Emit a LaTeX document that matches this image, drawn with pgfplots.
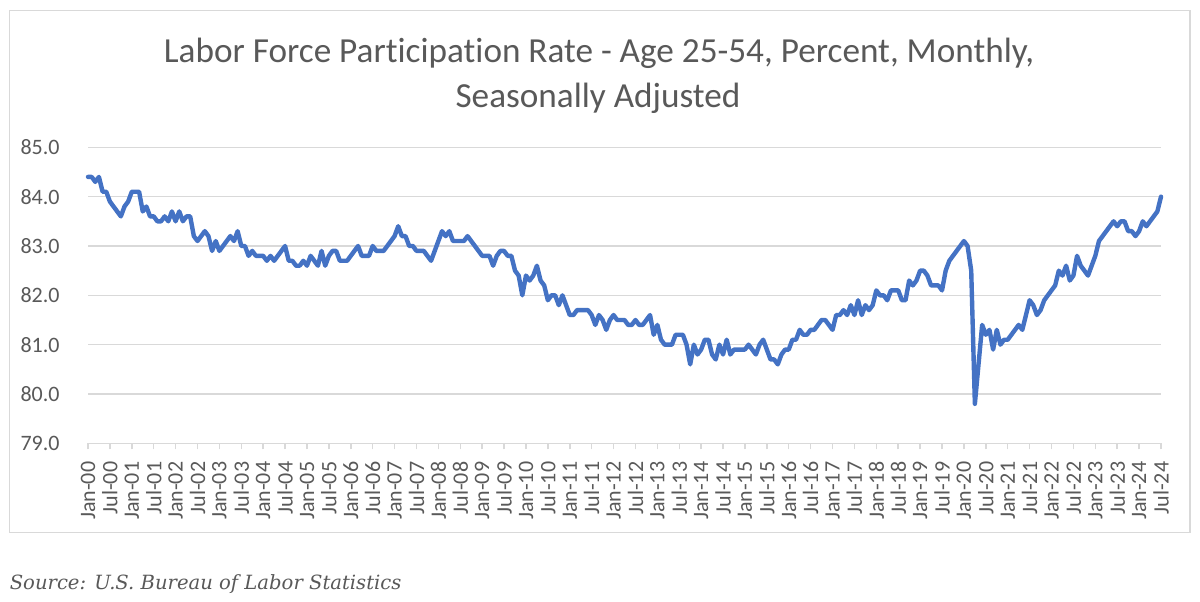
\documentclass[border=0pt]{standalone}
\usepackage{fontspec}
\setmainfont{Carlito}[Ligatures={NoCommon}]
\newfontfamily\srcfont{DejaVu Serif}
\usepackage{pgfplots}
\usepackage{pgfplotstable}
\pgfplotsset{compat=1.18}
\definecolor{txtgray}{HTML}{595959}
\definecolor{gridgray}{HTML}{D9D9D9}
\definecolor{linblue}{HTML}{4472C4}
\definecolor{framegray}{HTML}{D9D9D9}
\pgfplotstableread{
v
84.4
84.4
84.3
84.4
84.1
84.1
83.9
83.8
83.7
83.6
83.8
83.9
84.1
84.1
84.1
83.7
83.8
83.6
83.6
83.5
83.5
83.6
83.5
83.7
83.5
83.7
83.5
83.6
83.6
83.2
83.1
83.2
83.3
83.2
82.9
83.1
82.9
83.0
83.1
83.2
83.1
83.3
83.0
83.0
82.8
82.9
82.8
82.8
82.8
82.7
82.8
82.7
82.8
82.9
83.0
82.7
82.7
82.6
82.6
82.7
82.6
82.8
82.7
82.6
82.9
82.6
82.8
82.9
82.9
82.7
82.7
82.7
82.8
82.9
83.0
82.8
82.8
82.8
83.0
82.9
82.9
82.9
83.0
83.1
83.2
83.4
83.2
83.2
83.0
83.0
82.9
82.9
82.9
82.8
82.7
82.9
83.1
83.3
83.2
83.3
83.1
83.1
83.1
83.1
83.2
83.1
83.0
82.9
82.8
82.8
82.8
82.6
82.8
82.9
82.9
82.8
82.8
82.5
82.4
82.0
82.4
82.3
82.4
82.6
82.3
82.2
81.9
82.0
82.0
81.8
82.0
81.8
81.6
81.6
81.7
81.7
81.7
81.7
81.6
81.4
81.6
81.5
81.3
81.5
81.6
81.5
81.5
81.5
81.4
81.4
81.5
81.4
81.4
81.5
81.6
81.2
81.4
81.1
81.0
81.0
81.0
81.2
81.2
81.2
81.0
80.6
81.0
80.8
80.9
81.1
81.1
80.8
80.7
81.0
80.8
81.1
80.8
80.9
80.9
80.9
80.9
81.0
80.9
80.8
81.0
81.1
80.9
80.7
80.7
80.6
80.8
80.9
80.9
81.1
81.1
81.3
81.2
81.2
81.3
81.3
81.4
81.5
81.5
81.4
81.3
81.6
81.6
81.7
81.6
81.8
81.6
81.9
81.6
81.8
81.7
81.8
82.1
82.0
82.0
81.9
82.1
82.1
82.1
81.9
81.9
82.3
82.2
82.3
82.5
82.5
82.4
82.2
82.2
82.2
82.1
82.5
82.7
82.8
82.9
83.0
83.1
83.0
82.5
79.8
80.6
81.4
81.2
81.3
80.9
81.3
81.0
81.1
81.1
81.2
81.3
81.4
81.3
81.6
81.9
81.8
81.6
81.7
81.9
82.0
82.1
82.2
82.5
82.4
82.6
82.3
82.4
82.8
82.6
82.5
82.4
82.6
82.8
83.1
83.2
83.3
83.4
83.5
83.4
83.5
83.5
83.3
83.3
83.2
83.3
83.5
83.4
83.5
83.6
83.7
84.0
}\lfpr
\begin{document}
\begin{tikzpicture}
\path[use as bounding box] (0,0) rectangle (600pt,300.5pt);
\fill[white] (0,0) rectangle (600pt,300.5pt);
\draw[framegray, line width=0.6pt] (4.6pt,34.2pt) rectangle (595pt,295.2pt);
\node[anchor=base, text=txtgray, font=\fontsize{17.6pt}{20pt}\selectfont, inner sep=0pt] at (299.5pt,269.2pt) {Labor Force Participation Rate - Age 25-54, Percent, Monthly,};
\node[anchor=base, text=txtgray, font=\fontsize{17.6pt}{20pt}\selectfont, inner sep=0pt] at (299pt,246.5pt) {Seasonally Adjusted};
\node[anchor=base west, text=txtgray, font=\srcfont\itshape\fontsize{9.8pt}{12pt}\selectfont, inner sep=0pt] at (4.7pt,6pt) {Source: U.S. Bureau of Labor Statistics};
\begin{axis}[
  at={(44pt,78.85pt)}, anchor=south west,
  scale only axis, width=536.5pt, height=148pt,
  xmin=0, xmax=294, ymin=79, ymax=85,
  clip=false,
  separate axis lines,
  axis x line*=bottom, axis y line*=left,
  x axis line style={draw=gridgray, line width=0.75pt, -},
  y axis line style={draw=none},
  ymajorgrids, grid style={draw=gridgray, line width=0.75pt},
  ytick={79,80,81,82,83,84,85},
  yticklabels={79.0,80.0,81.0,82.0,83.0,84.0,85.0},
  ytick style={draw=none},
  yticklabel style={anchor=east, inner sep=0pt, xshift=-11pt, text=txtgray, font=\fontsize{11pt}{13pt}\selectfont},
  xtick={0,6,...,294},
  xticklabels={Jan-00,Jul-00,Jan-01,Jul-01,Jan-02,Jul-02,Jan-03,Jul-03,Jan-04,Jul-04,Jan-05,Jul-05,Jan-06,Jul-06,Jan-07,Jul-07,Jan-08,Jul-08,Jan-09,Jul-09,Jan-10,Jul-10,Jan-11,Jul-11,Jan-12,Jul-12,Jan-13,Jul-13,Jan-14,Jul-14,Jan-15,Jul-15,Jan-16,Jul-16,Jan-17,Jul-17,Jan-18,Jul-18,Jan-19,Jul-19,Jan-20,Jul-20,Jan-21,Jul-21,Jan-22,Jul-22,Jan-23,Jul-23,Jan-24,Jul-24},
  xtick style={draw=gridgray, line width=0.75pt},
  tick align=outside, major tick length=3pt,
  xticklabel style={yshift=-6pt, rotate=90, anchor=east, inner sep=0pt, text=txtgray, font=\fontsize{11pt}{13pt}\selectfont},
]
\addplot[linblue, line width=2.2pt, line join=round, line cap=round, no markers] table[x expr=\coordindex, y=v] {\lfpr};
\end{axis}
\end{tikzpicture}
\end{document}
